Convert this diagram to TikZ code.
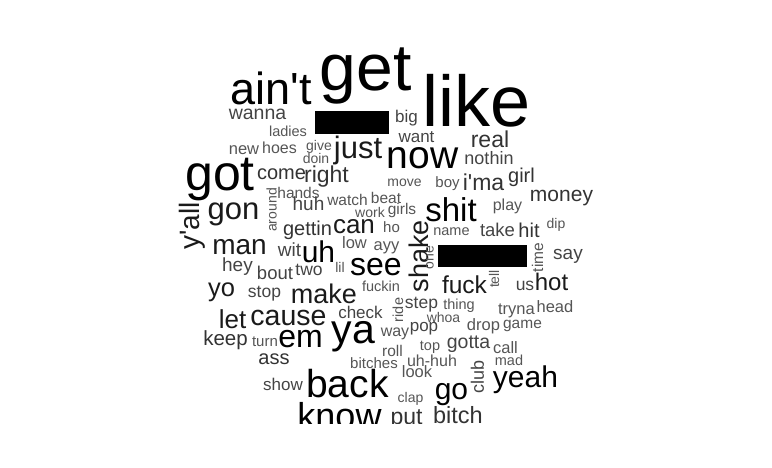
\documentclass[tikz,border=0pt]{standalone}
\usepackage{fontspec}
\setmainfont{Liberation Sans}
\definecolor{ca}{HTML}{000000}
\definecolor{cb}{HTML}{1A1A1A}
\definecolor{cc}{HTML}{333333}
\definecolor{cd}{HTML}{444444}
\definecolor{ce}{HTML}{555555}
\tikzset{
  wsz/.style={inner sep=0pt, outer sep=0pt, anchor=center, font=\fontsize{#1}{#1}\selectfont},
  vert/.style={rotate=90},
  redact/.style={fill=black, draw=none}
}
\begin{document}
\begin{tikzpicture}[x=1pt,y=-1pt]
\useasboundingbox (0,0) rectangle (772,468);
\begin{scope}
\clip (0,0) rectangle (772,423);
% large words
\node[wsz=45, text=ca] (aint) at (271,88.5) {ain\textquotesingle t};
\node[wsz=66, text=ca] (get) at (365.5,76) {get};
\node[wsz=72, text=ca] (like) at (476.5,100.5) {like};
\fill[redact] (315,111) rectangle (389,134);
\node[wsz=19.5, text=cd] (wanna) at (257.5,114) {wanna};
\node[wsz=14.5, text=ce] (ladies) at (288,131.5) {ladies};
\node[wsz=16.5, text=ce] (new) at (244,150) {new};
\node[wsz=16, text=ce] (hoes) at (279.5,148) {hoes};
\node[wsz=14, text=ce] (give) at (319,146.5) {give};
\node[wsz=14, text=ce] (doin) at (316,158) {doin};
\node[wsz=31, text=cb] (just) at (358,150.5) {just};
\node[wsz=17, text=cd] (big) at (406.5,118.5) {big};
\node[wsz=17, text=cd] (want) at (416.5,137.5) {want};
\node[wsz=23, text=cc] (real) at (490,139.5) {real};
\node[wsz=39, text=ca] (now) at (422.5,158) {now};
\node[wsz=18, text=cd] (nothin) at (489,158.5) {nothin};
\node[wsz=20, text=cc] (girl) at (521.5,177) {girl};
\node[wsz=50, text=ca] (got) at (220,179.5) {got};
\node[wsz=20, text=cc] (come) at (281.5,174) {come};
\node[wsz=23, text=cc] (right) at (326.5,176.5) {right};
\node[wsz=14, text=ce] (move) at (404.5,183) {move};
\node[wsz=15, text=ce] (boy) at (447.5,183.5) {boy};
\node[wsz=23, text=cc] (ima) at (483.5,182.5) {i\textquotesingle ma};
\node[wsz=21, text=cc] (money) at (561.5,198) {money};
\node[wsz=15.5, text=ce] (hands) at (298.5,192.5) {hands};
\node[wsz=14, text=ce, vert] (around) at (271.5,210) {around};
\node[wsz=19, text=cd] (huh) at (308.5,203.5) {huh};
\node[wsz=15.5, text=ce] (watch) at (347.5,200) {watch};
\node[wsz=15.5, text=ce] (beat) at (386,197.5) {beat};
\node[wsz=14, text=ce] (work) at (370,212) {work};
\node[wsz=15.5, text=ce] (girls) at (402,210.5) {girls};
\node[wsz=33, text=ca] (shit) at (451,210) {shit};
\node[wsz=16, text=ce] (play) at (507.5,206) {play};
\node[wsz=28, text=cb, vert] (yall) at (192.5,226) {y\textquotesingle all};
\node[wsz=31, text=cb] (gon) at (233.5,214) {gon};
\node[wsz=20, text=cc] (gettin) at (307.5,230) {gettin};
\node[wsz=26, text=cb] (can) at (354,226.5) {can};
\node[wsz=15, text=ce] (ho) at (391.5,227.5) {ho};
\node[wsz=27, text=cb, vert] (shake) at (419,256) {shake};
\node[wsz=14.5, text=ce] (name) at (451.5,232) {name};
\node[wsz=18.5, text=cd] (take) at (497.5,230) {take};
\node[wsz=20, text=cc] (hit) at (529,230.5) {hit};
\node[wsz=14, text=ce] (dip) at (556,225) {dip};
\node[wsz=28, text=cb] (man) at (239.5,247) {man};
\node[wsz=19, text=cd] (wit) at (289.5,250) {wit};
\node[wsz=30, text=ca] (uh) at (318.5,252) {uh};
\node[wsz=16.5, text=ce] (low) at (354.5,242.5) {low};
\node[wsz=16.5, text=ce] (ayy) at (386.5,247.5) {ayy};
\node[wsz=14, text=ce, vert] (one) at (430,257.5) {one};
\fill[redact] (438,245) rectangle (527,267);
\node[wsz=15.5, text=ce, vert] (time) at (537.5,257.5) {time};
\node[wsz=19, text=cd] (say) at (568,256) {say};
\node[wsz=19, text=cd] (hey) at (237.5,267) {hey};
\node[wsz=18.5, text=cd] (bout) at (275,272.5) {bout};
\node[wsz=17.5, text=cd] (two) at (309,270) {two};
\node[wsz=14, text=ce] (lil) at (340,267) {lil};
\node[wsz=32, text=ca] (see) at (376,267) {see};
\node[wsz=25.5, text=cb] (yo) at (221.5,292) {yo};
\node[wsz=17.5, text=cd] (stop) at (264.5,294) {stop};
\node[wsz=27, text=cb] (make) at (324,294) {make};
\node[wsz=14.5, text=ce] (fuckin) at (381,286) {fuckin};
\node[wsz=24.5, text=cb] (fuck) at (464.5,285) {fuck};
\node[wsz=14, text=ce, vert] (tell) at (494,279) {tell};
\node[wsz=17.5, text=cd] (us) at (525,286) {us};
\node[wsz=24, text=cb] (hot) at (551.5,282) {hot};
\node[wsz=26, text=cb] (let) at (232.5,319) {let};
\node[wsz=28.5, text=cb] (cause) at (288.5,318) {cause};
\node[wsz=17, text=cd] (check) at (360.5,312.5) {check};
\node[wsz=14.5, text=ce, vert] (ride) at (398,310) {ride};
\node[wsz=17.5, text=cd] (step) at (421.5,305) {step};
\node[wsz=14.5, text=ce] (thing) at (459,305.5) {thing};
\node[wsz=16.5, text=ce] (tryna) at (516.5,310.5) {tryna};
\node[wsz=16.5, text=ce] (head) at (555,306.5) {head};
\node[wsz=14, text=ce] (whoa) at (443.5,317) {whoa};
\node[wsz=16.5, text=ce] (drop) at (483.5,326) {drop};
\node[wsz=15.5, text=ce] (game) at (522.5,326) {game};
\node[wsz=17, text=cd] (pop) at (424,328.5) {pop};
\node[wsz=16, text=ce] (way) at (395,333.5) {way};
\node[wsz=41, text=ca] (ya) at (353.5,337) {ya};
\node[wsz=32, text=ca] (em) at (300.5,339) {em};
\node[wsz=20.5, text=cc] (keep) at (225.5,340) {keep};
\node[wsz=15, text=ce] (turn) at (265,341.5) {turn};
\node[wsz=19.5, text=cd] (gotta) at (468.5,344.5) {gotta};
\node[wsz=14.5, text=ce] (top) at (430,347) {top};
\node[wsz=16.5, text=ce] (call) at (505.5,347.5) {call};
\node[wsz=15.5, text=ce] (roll) at (392.5,351) {roll};
\node[wsz=20, text=cc] (ass) at (274,359.5) {ass};
\node[wsz=15, text=ce] (bitches) at (374,363.5) {bitches};
\node[wsz=16, text=ce] (uhhuh) at (432,361) {uh-huh};
\node[wsz=14.5, text=ce] (mad) at (509,360) {mad};
\node[wsz=16.5, text=ce] (look) at (417,371.5) {look};
\node[wsz=18, text=cd, vert] (club) at (477.5,376.5) {club};
\node[wsz=30, text=ca] (yeah) at (525.5,380) {yeah};
\node[wsz=17, text=cd] (show) at (283,384) {show};
\node[wsz=39, text=ca] (back) at (347.5,384) {back};
\node[wsz=14, text=ce] (clap) at (410.5,399) {clap};
\node[wsz=30, text=ca] (go) at (451.5,394.5) {go};
\node[wsz=36, text=ca] (know) at (339.5,416) {know};
\node[wsz=23, text=cc] (put) at (406.5,419) {put};
\node[wsz=23.5, text=cc] (bitch) at (458,415.5) {bitch};
\end{scope}
\end{tikzpicture}
\end{document}
